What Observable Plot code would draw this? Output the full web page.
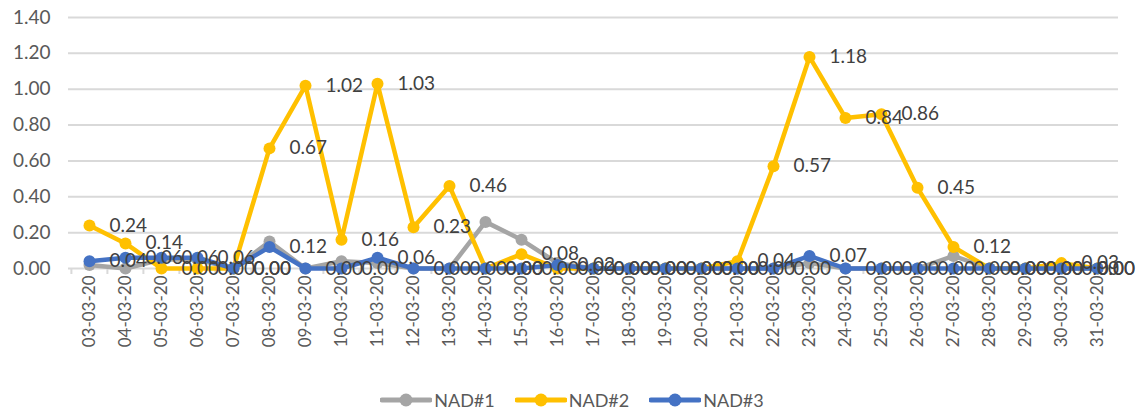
<!DOCTYPE html>
<html>
<head>
<meta charset="utf-8">
<script src="https://cdn.jsdelivr.net/npm/d3@7"></script>
<script src="https://cdn.jsdelivr.net/npm/@observablehq/plot@0.6"></script>
<style>
  html, body { margin: 0; padding: 0; background: #fff; overflow: hidden; }
  #chart svg { display: block; }
  .legend { display: flex; justify-content: center; align-items: center; height: 40px;
            font-family: Lato, sans-serif; font-size: 18px; color: #595959; }
  .legend .item { display: flex; align-items: center; margin: 0 10px; }
  .legend svg { margin-right: 2px; }
</style>
</head>
<body>
<div id="chart"></div>
<div class="legend" id="legend"></div>
<script>
// Daily readings, March 2020
const dates = [
  "03-03-20","04-03-20","05-03-20","06-03-20","07-03-20","08-03-20","09-03-20",
  "10-03-20","11-03-20","12-03-20","13-03-20","14-03-20","15-03-20","16-03-20",
  "17-03-20","18-03-20","19-03-20","20-03-20","21-03-20","22-03-20","23-03-20",
  "24-03-20","25-03-20","26-03-20","27-03-20","28-03-20","29-03-20","30-03-20","31-03-20"
];
const nad1 = [0.02,0.00,0.05,0.05,0.00,0.15,0.00,0.04,0.03,0.00,0.00,0.26,0.16,0.03,
              0.00,0.00,0.00,0.00,0.00,0.00,0.03,0.00,0.00,0.00,0.07,0.00,0.00,0.00,0.00];
const nad2 = [0.24,0.14,0.00,0.00,0.00,0.67,1.02,0.16,1.03,0.23,0.46,0.00,0.08,0.00,
              0.00,0.00,0.00,0.00,0.04,0.57,1.18,0.84,0.86,0.45,0.12,0.00,0.00,0.03,0.00];
const nad3 = [0.04,0.06,0.06,0.06,0.00,0.12,0.00,0.00,0.06,0.00,0.00,0.00,0.00,0.02,
              0.00,0.00,0.00,0.00,0.00,0.00,0.07,0.00,0.00,0.00,0.00,0.00,0.00,0.00,0.00];
const seriesNames = ["NAD#1", "NAD#2", "NAD#3"];
const seriesColors = ["#a5a5a5", "#ffc000", "#4472c4"];
const yTicks = [0, 0.2, 0.4, 0.6, 0.8, 1.0, 1.2, 1.4];

const rows = (vals) => dates.map((d, i) => ({date: d, value: vals[i]}));
const s1 = rows(nad1), s2 = rows(nad2), s3 = rows(nad3);

const W = 1144, H = 380;
const mL = 68, mR = 26, mT = 17, mB = 112;
const half = (W - mL - mR) / dates.length / 2;
const last = dates.length - 1;

function series(data, color) {
  return [
    Plot.line(data, {x: "date", y: "value", stroke: color, strokeWidth: 4.5,
                     strokeLinejoin: "round", strokeLinecap: "round"}),
    Plot.dot(data, {x: "date", y: "value", r: 6, fill: color, stroke: null})
  ];
}
// value labels sit right of each point; the final one is kept inside the frame
function labels(data) {
  const opts = {x: "date", y: "value", text: d => d.value.toFixed(2),
                textAnchor: "start", fontSize: 19, fill: "#404040"};
  return [
    Plot.text(data.slice(0, last), {...opts, dx: 20}),
    Plot.text(data.slice(last), {...opts, dx: 0})
  ];
}

const chart = Plot.plot({
  width: W, height: H,
  marginLeft: mL, marginRight: mR, marginTop: mT, marginBottom: mB,
  style: {fontFamily: "Lato, sans-serif", fontSize: "19px", background: "#fff", overflow: "visible"},
  x: {type: "point", domain: dates, padding: 0.5, axis: null},
  y: {domain: [0, 1.4], axis: null},
  marks: [
    Plot.gridY(yTicks, {stroke: "#d9d9d9", strokeOpacity: 1, strokeWidth: 2}),
    Plot.axisY(yTicks, {tickSize: 0, tickPadding: 18, tickFormat: d => d.toFixed(2),
                        fontSize: 19, fill: "#595959", label: null}),
    // category boundary ticks
    Plot.axisX(dates, {tickSize: 6, tickFormat: () => "", dx: -half,
                       stroke: "#d9d9d9", strokeWidth: 2, label: null}),
    Plot.axisX([dates[last]], {tickSize: 6, tickFormat: () => "", dx: half,
                       stroke: "#d9d9d9", strokeWidth: 2, label: null}),
    Plot.axisX(dates, {tickSize: 0, tickPadding: 7, tickRotate: -90,
                       fontSize: 17, fill: "#595959", label: null}),
    ...series(s1, seriesColors[0]),
    ...series(s2, seriesColors[1]),
    ...series(s3, seriesColors[2]),
    ...labels(s2),
    ...labels(s3)
  ]
});
document.getElementById("chart").appendChild(chart);

// Legend below the plot
const legend = d3.select("#legend");
seriesNames.forEach((name, i) => {
  const item = legend.append("div").attr("class", "item");
  const sw = item.append("svg").attr("width", 52).attr("height", 16);
  sw.append("line").attr("x1", 2).attr("x2", 50).attr("y1", 8).attr("y2", 8)
    .attr("stroke", seriesColors[i]).attr("stroke-width", 5).attr("stroke-linecap", "round");
  sw.append("circle").attr("cx", 26).attr("cy", 8).attr("r", 6.5).attr("fill", seriesColors[i]);
  item.append("span").text(name);
});
</script>
</body>
</html>
